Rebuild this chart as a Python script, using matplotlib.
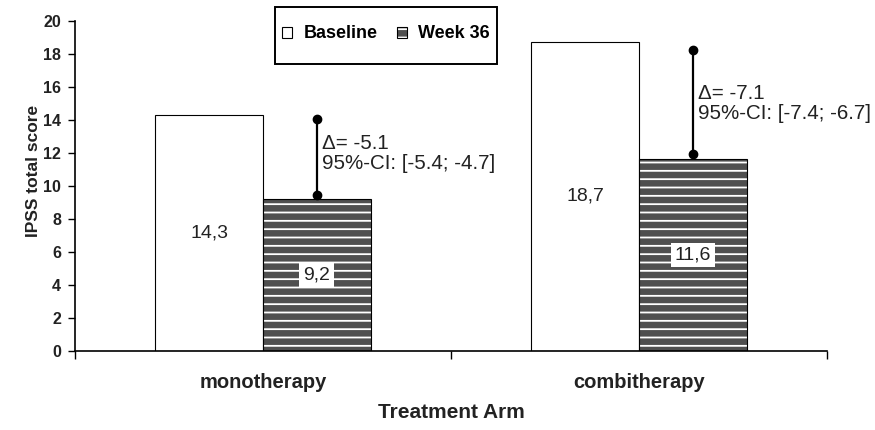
import matplotlib.pyplot as plt
import matplotlib.patches as mpatches
from matplotlib.legend_handler import HandlerTuple
import numpy as np

plt.rcParams['font.family'] = ['Liberation Sans', 'DejaVu Sans']
plt.rcParams['hatch.linewidth'] = 1.3

arms = ["monotherapy", "combitherapy"]
baseline = [14.3, 18.7]
week36 = [9.2, 11.6]
baseline_labels = ["14,3", "18,7"]
week36_labels = ["9,2", "11,6"]
# vertical change markers drawn above the week 36 bars
delta_low = [9.45, 11.9]
delta_high = [14.05, 18.25]
delta_text = ["\u0394= -5.1\n95%-CI: [-5.4; -4.7]",
              "\u0394= -7.1\n95%-CI: [-7.4; -6.7]"]
yticks = list(range(0, 21, 2))

GRAY = "#4f4f4f"
W = 0.286
text_y = [11.95, 14.98]

fig = plt.figure(figsize=(8.75, 4.3), dpi=100)
ax = fig.add_axes([75 / 875, 1 - 350.7 / 430, 752 / 875, 330 / 430])

x = np.arange(len(arms))
xb = x - W / 2
xw = x + W / 2

ax.bar(xb, baseline, W, facecolor="white", edgecolor="black", linewidth=0.8, zorder=2)
# hatched fill (white lines) then black outline on top
ax.bar(xw, week36, W, facecolor=GRAY, edgecolor="white", hatch="--", linewidth=0, zorder=2)
ax.bar(xw, week36, W, fill=False, edgecolor="black", linewidth=0.8, zorder=3)

for i in range(len(arms)):
    ax.text(xb[i], baseline[i] / 2, baseline_labels[i], ha="center", va="center",
            fontsize=14, color="#222222", zorder=4)
    ax.text(xw[i], week36[i] / 2, week36_labels[i], ha="center", va="center",
            fontsize=14, color="#222222", zorder=4,
            bbox=dict(boxstyle="square,pad=0.2", facecolor="white", edgecolor="none"))
    ax.plot([xw[i], xw[i]], [delta_low[i], delta_high[i]], color="black", lw=1.6,
            marker="o", markersize=6, zorder=5, clip_on=False)
    ax.annotate(delta_text[i], xy=(xw[i], text_y[i]), xytext=(4, 0),
                textcoords="offset points", ha="left", va="center",
                fontsize=14.8, linespacing=1.05, color="#222222")

ax.set_xlim(-0.5, 1.5)
ax.set_ylim(0, 20)
ax.set_yticks(yticks)
ax.set_xticks(x)
ax.set_xticklabels(arms, fontsize=14.5, fontweight="bold", color="#222222")
ax.set_xticks([-0.5, 0.5, 1.5], minor=True)
ax.tick_params(axis="x", which="major", length=0, pad=16)
ax.tick_params(axis="x", which="minor", length=6, width=1, direction="out")
ax.tick_params(axis="y", length=5, width=1, direction="out", pad=5,
               labelsize=11.5, labelcolor="#222222")
for lab in ax.get_yticklabels():
    lab.set_fontweight("bold")

for s in ["top", "right"]:
    ax.spines[s].set_visible(False)
ax.spines["left"].set_linewidth(1.2)
ax.spines["bottom"].set_linewidth(1.2)

ax.set_ylabel("IPSS total score", fontsize=12.5, fontweight="bold", color="#222222")
ax.yaxis.set_label_coords(-0.045, 0.545)
ax.set_xlabel("Treatment Arm", fontsize=15, fontweight="bold", color="#222222", labelpad=8)

# legend box
frame = mpatches.Rectangle((275 / 875, 1 - 64 / 430), 222 / 875, 57 / 430,
                           transform=fig.transFigure, facecolor="white",
                           edgecolor="black", linewidth=1.4, zorder=4)
fig.add_artist(frame)
h_base = mpatches.Patch(facecolor="white", edgecolor="black", linewidth=0.8)
h_fill = mpatches.Patch(facecolor=GRAY, edgecolor="white", hatch="--", linewidth=0)
h_edge = mpatches.Patch(fill=False, edgecolor="black", linewidth=0.8)
leg = fig.legend([h_base, (h_fill, h_edge)], ["Baseline", "Week 36"],
                 handler_map={tuple: HandlerTuple(ndivide=1, pad=0)},
                 loc="center", bbox_to_anchor=(386 / 875, 1 - 34 / 430),
                 ncol=2, frameon=False, prop=dict(size=13, weight="bold"),
                 handlelength=0.55, handleheight=0.55, handletextpad=0.6,
                 columnspacing=1.1, borderpad=0)
leg.set_zorder(6)

fig.savefig("out.png", dpi=100)
